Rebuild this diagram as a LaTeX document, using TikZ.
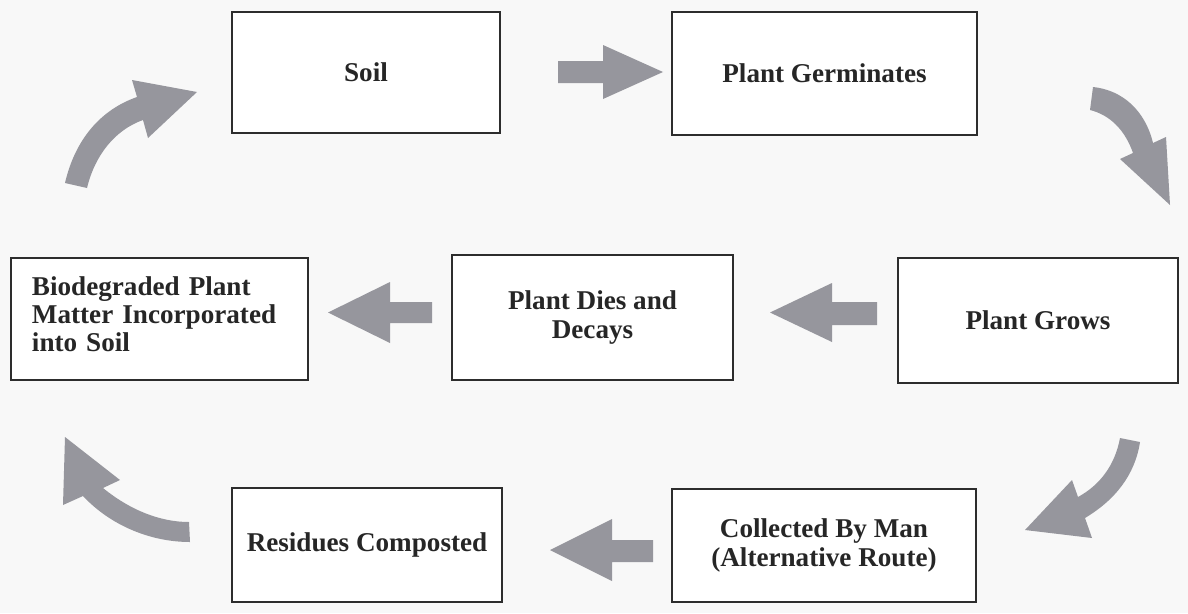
\documentclass[tikz,border=0pt]{standalone}
\usepackage{fontspec}
\setmainfont{Liberation Serif}
\definecolor{paper}{RGB}{248,248,248}
\definecolor{arrowgray}{RGB}{150,150,157}
\definecolor{inkline}{RGB}{45,45,45}
\begin{document}
\begin{tikzpicture}[x=0.025cm,y=-0.025cm,
  box/.style={draw=inkline, line width=0.9pt, fill=white, inner sep=0pt,
    align=center, text=black!85,
    font=\bfseries\fontsize{19.3}{20.2}\selectfont},
  blockarrow/.style={fill=arrowgray, draw=none}]
% page
\fill[paper] (0,0) rectangle (1188,613);
\useasboundingbox (0,0) rectangle (1188,613);

% stages of the cycle
\node[box, minimum width=6.7cm,   minimum height=3.025cm] (soil)  at (366,72.5)   {Soil};
\node[box, minimum width=7.625cm, minimum height=3.075cm] (germ)  at (824.5,73.5) {Plant Germinates};
\node[box, minimum width=7.025cm, minimum height=3.125cm] (dies)  at (592.5,317.5) {Plant Dies and\\Decays};
\node[box, minimum width=7cm,     minimum height=3.125cm] (grows) at (1038,320.5)  {Plant Grows};
\node[box, minimum width=6.75cm,  minimum height=2.85cm]  (resid) at (367,545)     {Residues Composted};
\node[box, minimum width=7.6cm,   minimum height=2.825cm] (coll)  at (824,545.5)   {Collected By Man\\(Alternative Route)};
\node[box, align=left, text width=6.375cm, inner xsep=0.525cm,
      minimum height=3.05cm] (bio) at (159.5,319)
      {Biodegraded Plant\\Matter Incorporated\\into Soil\rule[-0.25cm]{0pt}{0.25cm}};

% straight block arrows
\fill[blockarrow] (558,61) -- (603,61) -- (603,45) -- (663,72)
  -- (603,99) -- (603,83) -- (558,83) -- cycle;
\fill[blockarrow] (877,302) -- (832,302) -- (832,283) -- (770,312.5)
  -- (832,342) -- (832,325) -- (877,325) -- cycle;
\fill[blockarrow] (432,302) -- (390,302) -- (390,282) -- (328,312.5)
  -- (390,343) -- (390,323) -- (432,323) -- cycle;
\fill[blockarrow] (653,540) -- (612,540) -- (612,519) -- (550,550)
  -- (612,581) -- (612,562) -- (653,562) -- cycle;

% curved block arrows
\fill[blockarrow] (65,183) .. controls (75,140) and (100,110) .. (137,97)
  -- (132,80) -- (197,92) -- (148,138) -- (143,120)
  .. controls (115,130) and (95,155) .. (87,188) -- cycle;
\fill[blockarrow] (1093,87) .. controls (1122,90) and (1145,110) .. (1153,143)
  -- (1166,137) -- (1170,205) -- (1120,159) -- (1133,153)
  .. controls (1125,130) and (1110,115) .. (1090,110) -- cycle;
\fill[blockarrow] (1120,438) .. controls (1115,465) and (1100,485) .. (1078,497)
  -- (1072,480) -- (1025,530) -- (1092,538) -- (1085,518)
  .. controls (1115,500) and (1135,475) .. (1140,442) -- cycle;
\fill[blockarrow] (103,488) .. controls (130,510) and (160,522) .. (189,522)
  -- (190,542) .. controls (150,542) and (110,525) .. (83,496)
  -- (63,505) -- (65,437) -- (120,480) -- cycle;
\end{tikzpicture}
\end{document}
